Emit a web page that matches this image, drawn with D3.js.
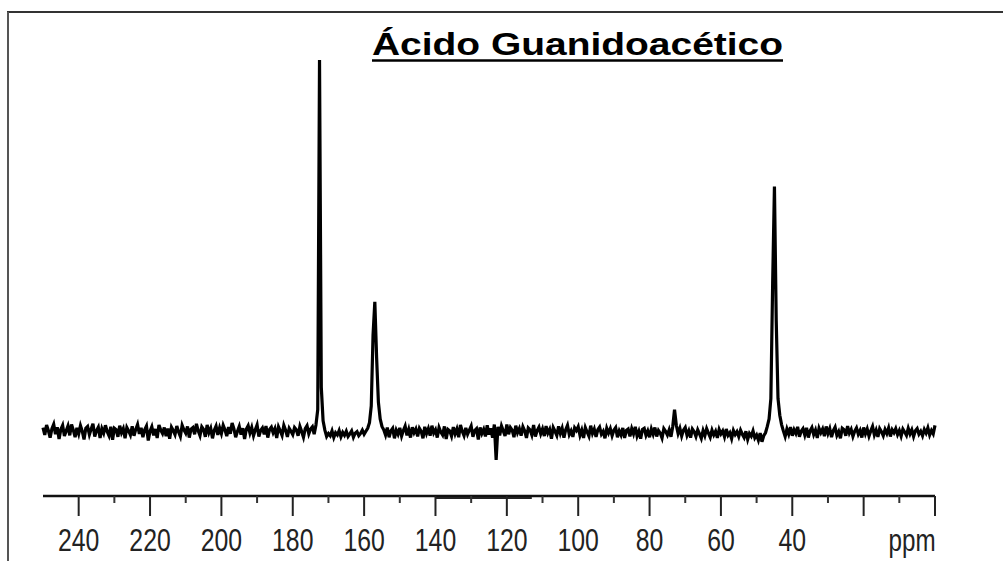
<!DOCTYPE html>
<html>
<head>
<meta charset="utf-8">
<script src="https://cdn.jsdelivr.net/npm/d3@7"></script>
<style>
  body { margin: 0; background: #fff; }
  svg { display: block; }
</style>
</head>
<body>
<div class="app"></div>
<script>
// Spectrum data: intensity sampled every 0.5 ppm, from 250 ppm down to 0 ppm.
var ppmStart = 250, ppmStep = 0.5;
var intensity = [
  1.2,-0.8,1.9,0.4,-1.5,0.9,2.1,-0.6,1.3,-1.9,      // 250
  0.7,1.8,-1.1,0.3,1.6,-0.9,2.0,0.5,-1.4,1.1,       // 245
  -0.5,1.7,0.2,-2.0,1.0,1.5,-0.7,0.8,2.2,-1.2,      // 240
  0.4,1.3,-1.6,0.9,-0.3,1.8,0.1,-1.0,1.4,-2.1,      // 235
  1.0,0.6,-1.3,1.7,-0.2,0.9,-1.7,1.2,0.3,-0.8,      // 230
  1.5,-1.0,0.7,2.0,-0.5,1.1,-1.4,0.6,1.6,-2.3,      // 225
  0.2,1.4,-0.9,0.8,-1.6,1.9,0.5,-0.4,1.2,-1.1,      // 220
  0.9,-1.8,1.3,0.4,-0.7,1.6,0.0,-1.2,1.8,0.6,       // 215
  -0.3,1.5,-1.5,0.8,1.2,-0.6,2.2,0.3,-1.0,1.4,      // 210
  0.7,-1.3,1.9,-0.2,1.0,-1.7,0.5,1.6,-0.8,1.1,      // 205
  -0.4,1.8,0.6,-1.1,1.3,-0.5,2.4,0.9,-1.4,0.2,      // 200
  1.5,-0.7,1.0,-1.9,0.8,1.7,-0.3,1.2,-1.0,0.6,      // 195
  1.9,-1.2,0.4,1.1,-0.6,1.6,-1.5,0.7,1.3,-0.2,      // 190
  0.9,-1.6,1.4,0.3,-0.9,1.8,0.5,-1.3,1.0,0.2,       // 185
  -0.7,1.2,0.6,-1.0,1.5,0.1,-1.4,0.9,1.7,-0.5,      // 180
  0.8,1.4,-0.6,1.9,6.0,100,12,3.0,0.5,-1.2,         // 175 (C=O peak at 172.5)
  -0.4,-1.0,0.3,-1.5,-0.2,-0.8,0.4,-1.3,-0.1,-0.9,  // 170
  0.2,-1.2,-0.5,0.3,-1.4,-0.3,0.1,-1.0,-0.4,0.5,    // 165
  -0.6,0.2,1.0,2.5,7.0,26,35,20,8.0,3.5,            // 160 (guanidino C at 157)
  1.5,0.6,-0.8,1.2,-1.4,0.3,1.0,-1.7,0.5,-0.6,      // 155
  1.1,-1.1,0.4,1.6,-0.9,0.7,-1.5,1.3,-0.2,0.8,      // 150
  -1.2,1.0,0.2,-1.7,1.4,-0.4,0.9,-1.0,1.7,-0.3,     // 145
  0.6,-1.5,1.2,0.0,-0.8,1.5,-1.9,0.7,0.3,-1.1,      // 140
  1.3,-0.5,0.8,-1.4,1.9,0.2,-1.0,1.1,-0.6,0.5,      // 135
  1.6,-1.3,0.4,0.9,-2.0,1.2,-0.4,0.7,-1.2,1.8,      // 130
  -0.7,1.0,-1.5,2.0,-7.5,1.4,-0.9,1.6,0.3,-1.1,     // 125
  2.0,-0.6,1.2,0.5,-1.4,1.7,-0.2,0.9,-1.0,1.4,      // 120
  0.3,-1.6,1.1,0.6,-0.8,1.9,-1.2,0.4,1.3,-0.5,      // 115
  0.8,-1.1,1.6,-0.3,0.7,-1.8,1.2,0.2,-0.9,1.5,      // 110
  -0.4,1.0,-1.5,0.6,1.8,-0.7,0.3,-1.3,1.1,0.4,      // 105
  1.4,-0.9,0.5,-1.6,1.2,0.0,-1.1,1.7,-0.4,0.8,      // 100
  -1.3,0.6,1.3,-0.6,0.2,-1.7,1.0,-0.3,0.9,-1.0,     // 95
  0.5,1.2,-1.4,0.3,-0.8,1.1,-1.6,0.4,0.8,-1.2,      // 90
  0.9,-0.5,1.4,-1.1,0.2,-1.8,0.7,1.0,-0.9,0.3,      // 85
  -1.4,0.8,-0.6,1.2,-1.2,0.4,-0.3,-1.6,0.9,0.2,     // 80
  -0.8,0.6,-1.3,1.5,6.0,1.8,-0.4,1.0,-1.1,0.5,      // 75
  1.2,-0.9,0.3,-1.5,0.8,0.1,-1.2,0.6,-0.5,-1.7,     // 70
  0.4,-1.0,0.9,-0.3,-1.4,0.5,-0.8,0.2,-1.6,0.7,     // 65
  -0.5,0.3,-1.3,0.8,-0.9,-0.2,-1.8,0.4,-0.7,0.1,    // 60
  -1.2,0.5,-0.6,-1.5,0.2,-2.0,-0.4,-1.1,0.3,-1.6,   // 55
  -0.8,-2.2,-0.3,-2.6,-1.0,-0.2,1.5,3.5,9.0,40,     // 50
  66,30,9.0,4.5,2.0,0.3,-1.2,0.8,-0.6,1.3,          // 45 (CH2 peak at 45)
  -1.0,0.6,-0.4,1.4,-1.3,0.2,0.9,-0.8,1.1,-1.5,     // 40
  0.3,1.2,-0.7,0.5,-1.6,1.0,-0.2,0.8,-1.1,1.5,      // 35
  -0.4,0.9,-1.4,0.4,1.3,-0.9,0.1,-1.7,1.0,0.6,      // 30
  -1.0,1.6,-0.3,0.7,-1.2,0.2,1.1,-0.6,0.4,-1.5,     // 25
  1.2,-0.5,0.8,-1.1,0.3,1.5,-0.8,0.5,-1.3,0.9,      // 20
  0.1,-1.0,0.7,-0.4,1.1,-1.2,0.6,-0.2,0.9,-0.7,     // 15
  0.4,-1.1,0.8,0.0,-0.9,1.0,-0.5,0.6,-1.2,0.3,      // 10
  0.9,-0.6,0.2,-1.0,0.7,-0.3,1.1,-0.8,0.4,-0.5,     // 5
  1.8                                               // 0
];

var majorTicks = [240, 220, 200, 180, 160, 140, 120, 100, 80, 60, 40, 20, 0];
var minorTicks = [230, 210, 190, 170, 150, 130, 110, 90, 70, 50, 30, 10];
var tickLabels = ["240", "220", "200", "180", "160", "140", "120", "100", "80", "60", "40", "", ""];
var titleText = "Ácido Guanidoacético";
var unitText = "ppm";
var smear = [140, 113]; // darker stretch on the scale bar in the scan

var W = 1003, H = 561;

var svg = d3.select(".app").append("svg")
    .attr("width", W)
    .attr("height", H);

// scales: ppm runs right to left
var x = d3.scaleLinear().domain([250, 0]).range([43, 935]),
    y = d3.scaleLinear().domain([0, 100]).range([432, 60]);

var axisY = 496;

// frame (only top and left edges are visible)
svg.append("line")
    .attr("x1", 7).attr("x2", W).attr("y1", 12).attr("y2", 12)
    .attr("stroke", "#333").attr("stroke-width", 2);
svg.append("line")
    .attr("x1", 8).attr("x2", 8).attr("y1", 12).attr("y2", H)
    .attr("stroke", "#555").attr("stroke-width", 2);

// title
svg.append("text")
    .attr("x", 372)
    .attr("y", 55)
    .attr("textLength", 411)
    .attr("lengthAdjust", "spacingAndGlyphs")
    .style("font-family", "'Liberation Sans', Arial, sans-serif")
    .style("font-weight", "bold")
    .style("font-size", "32px")
    .attr("fill", "#000")
    .text(titleText);
svg.append("line")
    .attr("x1", 372).attr("x2", 783).attr("y1", 60.5).attr("y2", 60.5)
    .attr("stroke", "#000").attr("stroke-width", 2.5);

// spectrum
var pts = intensity.map(function(v, i){ return {ppm: ppmStart - i * ppmStep, v: v}; });

var lineFunction = d3.line()
    .x(function(d){ return x(d.ppm); })
    .y(function(d){ return y(d.v); });

svg.append("path")
    .datum(pts)
    .attr("d", lineFunction)
    .attr("fill", "none")
    .attr("stroke", "#000")
    .attr("stroke-width", 3.2)
    .attr("stroke-linejoin", "miter");

// scale bar
var axis = svg.append("g").attr("class", "axis");

axis.append("line")
    .attr("x1", x(250)).attr("x2", x(0))
    .attr("y1", axisY).attr("y2", axisY)
    .attr("stroke", "#111").attr("stroke-width", 2.5);

axis.append("line")
    .attr("x1", x(smear[0])).attr("x2", x(smear[1]))
    .attr("y1", axisY + 2).attr("y2", axisY + 2)
    .attr("stroke", "#222").attr("stroke-width", 2);

axis.selectAll(".major")
    .data(majorTicks)
    .enter().append("line")
    .attr("class", "major")
    .attr("x1", function(d){ return x(d); }).attr("x2", function(d){ return x(d); })
    .attr("y1", axisY).attr("y2", axisY + 20)
    .attr("stroke", "#222").attr("stroke-width", 2);

axis.selectAll(".minor")
    .data(minorTicks)
    .enter().append("line")
    .attr("class", "minor")
    .attr("x1", function(d){ return x(d); }).attr("x2", function(d){ return x(d); })
    .attr("y1", axisY).attr("y2", axisY + 7)
    .attr("stroke", "#333").attr("stroke-width", 2);

axis.selectAll(".lbl")
    .data(majorTicks)
    .enter().append("text")
    .attr("class", "lbl")
    .attr("transform", function(d){ return "translate(" + x(d) + "," + 551 + ") scale(0.8,1)"; })
    .attr("text-anchor", "middle")
    .style("font-family", "'Liberation Sans', Arial, sans-serif")
    .style("font-size", "31px")
    .attr("fill", "#222")
    .text(function(d, i){ return tickLabels[i]; });

axis.append("text")
    .attr("transform", "translate(" + 912 + "," + 551 + ") scale(0.78,1)")
    .attr("text-anchor", "middle")
    .style("font-family", "'Liberation Sans', Arial, sans-serif")
    .style("font-size", "31px")
    .attr("fill", "#222")
    .text(unitText);
</script>
</body>
</html>
